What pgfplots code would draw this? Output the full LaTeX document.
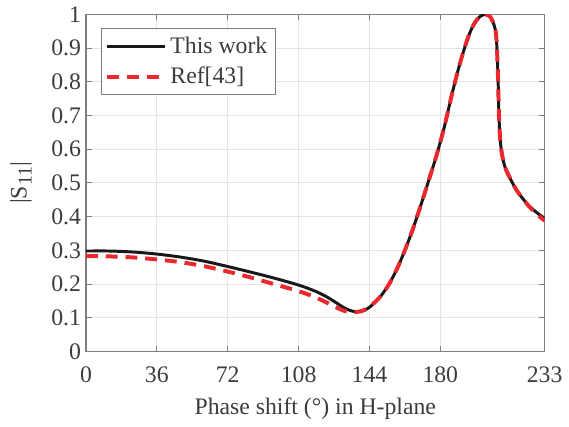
\documentclass[border=0pt]{standalone}
\usepackage{fontspec}
\setmainfont{Liberation Serif}
\usepackage{pgfplots}
\pgfplotsset{compat=1.18}
\definecolor{axgray}{RGB}{125,125,125}
\definecolor{txtgray}{RGB}{60,60,60}
\definecolor{gridgray}{RGB}{228,228,228}
\definecolor{myred}{RGB}{235,40,45}
\definecolor{myblack}{RGB}{25,25,25}
\begin{document}
\begin{tikzpicture}
\begin{axis}[
  width=232pt, height=170.5pt, scale only axis,
  xmin=0, xmax=233, ymin=0, ymax=1,
  xtick={0,36,72,108,144,180,233},
  ytick={0,0.1,0.2,0.3,0.4,0.5,0.6,0.7,0.8,0.9,1},
  yticklabels={0,0.1,0.2,0.3,0.4,0.5,0.6,0.7,0.8,0.9,1},
  grid=major, major grid style={gridgray, line width=0.5pt},
  axis line style={axgray, line width=0.6pt},
  tick style={axgray, line width=0.5pt}, tick align=inside, major tick length=3pt,
  ticklabel style={font=\fontsize{12}{14}\selectfont, text=txtgray},
  xticklabel style={yshift=-4pt},
  yticklabel style={xshift=1pt},
  /pgf/number format/assume math mode=true,
  label style={font=\fontsize{12}{14}\selectfont, text=txtgray},
  xlabel={Phase shift (°) in H-plane},
  xlabel style={yshift=-1pt},
  ylabel={|S\raisebox{-0.45ex}{\fontsize{10}{12}\selectfont 11}|},
  ylabel style={yshift=3pt},
  legend style={at={(axis description cs:0.032,0.959)}, anchor=north west,
    draw=axgray, line width=0.6pt, font=\fontsize{12}{14}\selectfont, text=txtgray,
    inner xsep=2pt, inner ysep=2pt, row sep=1.5pt},
  legend cell align=left,
  legend image code/.code={\draw[#1] plot coordinates {(0pt,0pt) (29pt,0pt)};},
]
\addplot[myblack, line width=1.5pt, smooth, tension=0.5] coordinates {
(0,0.298) (12,0.298) (24,0.295) (36,0.289) (48,0.280) (60,0.268) (72,0.252)
(84,0.235) (96,0.217) (108,0.197) (116,0.180) (122,0.163) (127,0.145) (131,0.130)
(134,0.122) (137,0.118) (140,0.119) (143,0.127) (146,0.141) (150,0.166) (154,0.200)
(158,0.245) (162,0.300) (166,0.362) (170,0.432) (174,0.505) (178,0.580) (182,0.665)
(186,0.765) (190,0.855) (194,0.930) (197,0.970) (200,0.993) (203,1.000) (205.5,0.992)
(207.5,0.965) (208.5,0.930) (209.3,0.820) (209.8,0.700) (210.5,0.625) (211.5,0.580)
(213,0.545) (215,0.519) (218,0.486) (221,0.460) (225,0.433) (229,0.412) (233,0.395)
};
\addlegendentry{This work}
\addplot[myred, line width=2pt, dash pattern=on 6pt off 4pt, smooth, tension=0.5] coordinates {
(0,0.283) (12,0.282) (24,0.279) (36,0.273) (48,0.265) (60,0.253) (72,0.237)
(84,0.219) (96,0.199) (108,0.179) (116,0.162) (122,0.146) (127,0.131) (131,0.121)
(134,0.117) (137,0.117) (140,0.120) (143,0.128) (146,0.142) (150,0.166) (154,0.200)
(158,0.245) (162,0.300) (166,0.362) (170,0.432) (174,0.505) (178,0.580) (182,0.665)
(186,0.765) (190,0.855) (194,0.930) (197,0.970) (200,0.993) (203,1.000) (205.5,0.992)
(207.5,0.965) (208.5,0.930) (209.3,0.820) (209.8,0.700) (210.5,0.625) (211.5,0.580)
(213,0.545) (215,0.519) (218,0.486) (221,0.460) (225,0.431) (229,0.408) (233,0.388)
};
\addlegendentry{Ref[43]}
\end{axis}
\path[use as bounding box] ([xshift=-43.5pt,yshift=-36pt]current axis.south west) rectangle ([xshift=9pt,yshift=7pt]current axis.north east);
\end{tikzpicture}
\end{document}
